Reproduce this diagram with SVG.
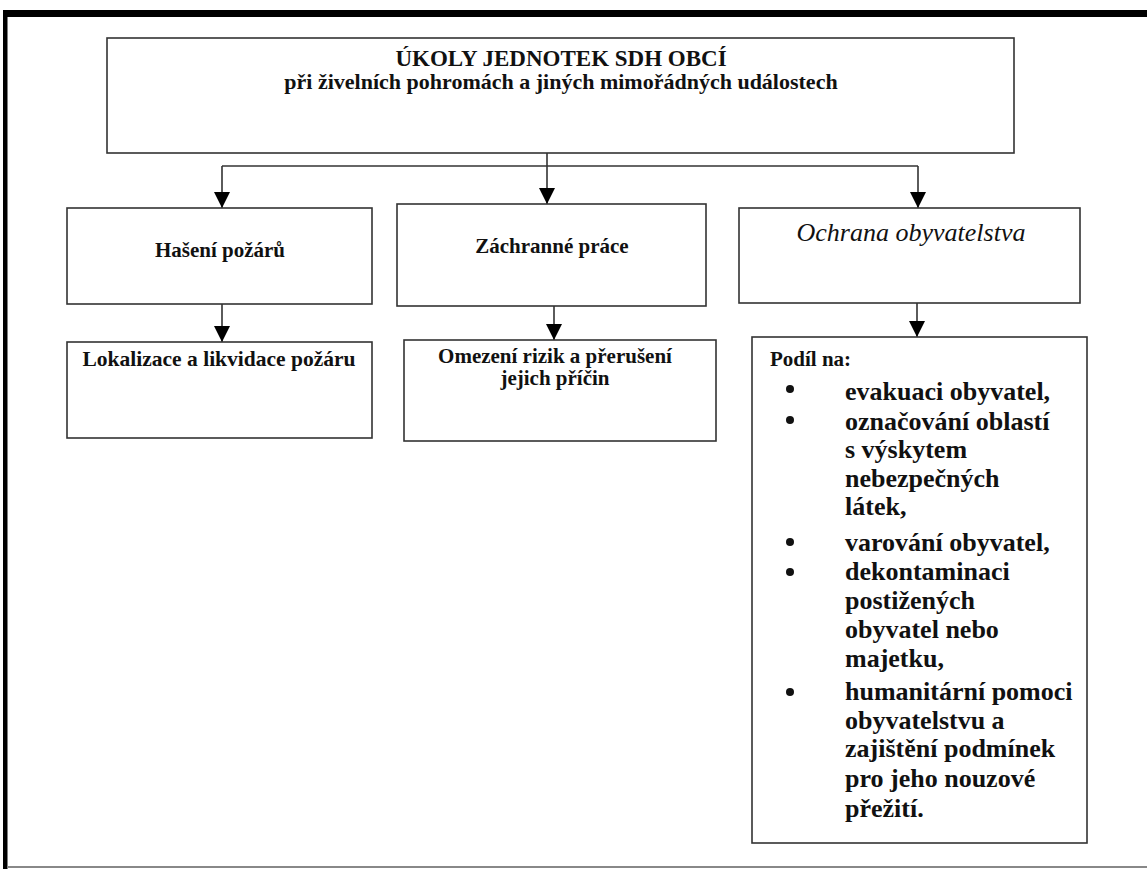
<svg xmlns="http://www.w3.org/2000/svg" width="1147" height="869" viewBox="0 0 1147 869">
<defs>
<marker id="arr" markerUnits="userSpaceOnUse" markerWidth="16" markerHeight="16" refX="16" refY="8" orient="auto">
<path d="M0,0 L16,8 L0,16 z" fill="#000"/>
</marker>
<style>
.box{fill:#fff;stroke:#333;stroke-width:1.6}
.lbl{font-family:"Liberation Serif","Times New Roman",serif;font-weight:bold;font-size:21px;fill:#111;text-anchor:middle}
.ttl{font-family:"Liberation Serif","Times New Roman",serif;font-weight:bold;font-size:22px;fill:#111;text-anchor:middle}
.ital{font-family:"Liberation Serif","Times New Roman",serif;font-style:italic;font-size:26px;fill:#111;text-anchor:middle}
.bt{font-family:"Liberation Serif","Times New Roman",serif;font-weight:bold;font-size:26px;fill:#111}
.con{fill:none;stroke:#333;stroke-width:1.6}
</style>
</defs>
<rect width="1147" height="869" fill="#fff"/>
<g id="frame">
<rect x="3" y="10" width="1144" height="7" fill="#000"/>
<rect x="3" y="10" width="4.5" height="859" fill="#000"/>
<line x1="7" y1="867" x2="1147" y2="867" stroke="#888" stroke-width="2"/>
</g>
<g id="connectors">
<path class="con" d="M547,143 V204" marker-end="url(#arr)"/>
<path class="con" d="M222,166 H918"/>
<path class="con" d="M222,166 V208" marker-end="url(#arr)"/>
<path class="con" d="M918,166 V208" marker-end="url(#arr)"/>
<path class="con" d="M222,300 V342" marker-end="url(#arr)"/>
<path class="con" d="M554,298 V340" marker-end="url(#arr)"/>
<path class="con" d="M917,293 V337" marker-end="url(#arr)"/>
</g>
<g id="main">
<rect class="box" x="107" y="38" width="907" height="115"/>
<text class="ttl" x="561" y="66" style="font-size:23px">ÚKOLY JEDNOTEK SDH OBCÍ</text>
<text class="ttl" x="561" y="89">při živelních pohromách a jiných mimořádných událostech</text>
</g>
<g id="haseni">
<rect class="box" x="67" y="208" width="305" height="96"/>
<text class="lbl" x="220" y="257">Hašení požárů</text>
</g>
<g id="zachranne">
<rect class="box" x="397" y="204" width="309" height="102"/>
<text class="lbl" x="552" y="253">Záchranné práce</text>
</g>
<g id="ochrana">
<rect class="box" x="739" y="208" width="341" height="95"/>
<text class="ital" x="911" y="241">Ochrana obyvatelstva</text>
</g>
<g id="lokalizace">
<rect class="box" x="67" y="342" width="305" height="96"/>
<text class="lbl" x="219" y="366" style="font-size:21.5px">Lokalizace a likvidace požáru</text>
</g>
<g id="omezeni">
<rect class="box" x="404" y="340" width="312" height="101"/>
<text class="lbl" x="555" y="363">Omezení rizik a přerušení</text>
<text class="lbl" x="555" y="385">jejich příčin</text>
</g>
<g id="podil">
<rect class="box" x="752" y="337" width="335" height="506"/>
<text class="lbl" x="770" y="366" style="text-anchor:start">Podíl na:</text>
<g fill="#111">
<circle cx="790" cy="389" r="4"/>
<circle cx="790" cy="420" r="4"/>
<circle cx="790" cy="542" r="4"/>
<circle cx="790" cy="572" r="4"/>
<circle cx="790" cy="692" r="4"/>
</g>
<text class="bt" x="845" y="400">evakuaci obyvatel,</text>
<text class="bt" x="845" y="430">označování oblastí</text>
<text class="bt" x="845" y="458">s výskytem</text>
<text class="bt" x="845" y="487">nebezpečných</text>
<text class="bt" x="845" y="515">látek,</text>
<text class="bt" x="845" y="551">varování obyvatel,</text>
<text class="bt" x="845" y="580">dekontaminaci</text>
<text class="bt" x="845" y="609">postižených</text>
<text class="bt" x="845" y="638">obyvatel nebo</text>
<text class="bt" x="845" y="667">majetku,</text>
<text class="bt" x="845" y="700">humanitární pomoci</text>
<text class="bt" x="845" y="729">obyvatelstvu a</text>
<text class="bt" x="845" y="757">zajištění  podmínek</text>
<text class="bt" x="845" y="787">pro jeho nouzové</text>
<text class="bt" x="845" y="817">přežití.</text>
</g>
</svg>
